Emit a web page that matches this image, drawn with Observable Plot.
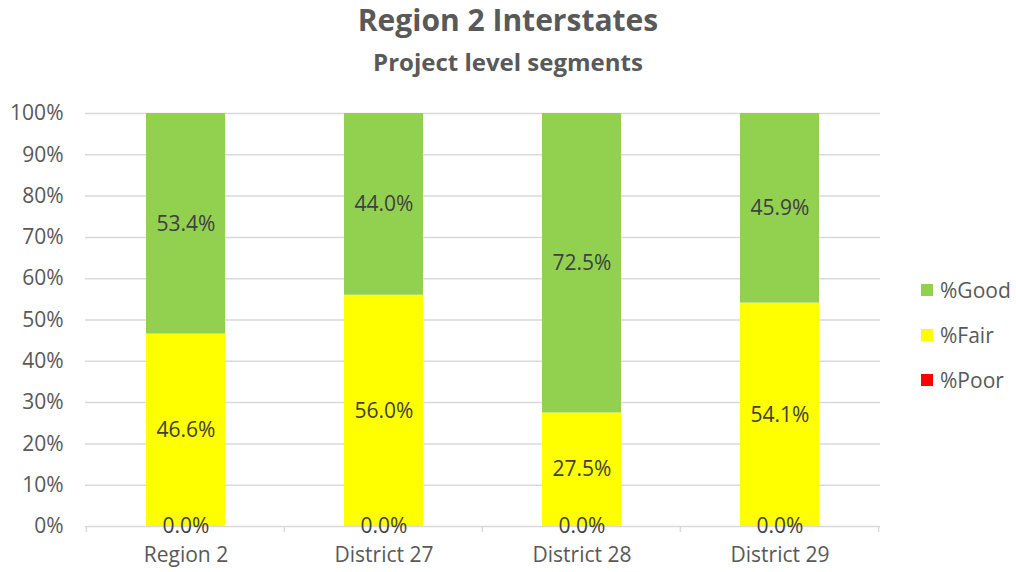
<!DOCTYPE html>
<html>
<head>
<meta charset="utf-8">
<script src="https://cdn.jsdelivr.net/npm/d3@7"></script>
<script src="https://cdn.jsdelivr.net/npm/@observablehq/plot@0.6"></script>
<style>
  html, body { margin: 0; padding: 0; background: #fff; }
  #wrap { position: relative; width: 1016px; height: 572px; font-family: "Open Sans", sans-serif; }
  #title { position: absolute; left: 0; width: 1016px; top: 0px; text-align: center; font-weight: bold; font-size: 30px; line-height: 40px; color: #595959; }
  #subtitle { position: absolute; left: 0; width: 1016px; top: 46px; text-align: center; font-weight: bold; font-size: 24px; line-height: 32px; color: #595959; }
  #chart { position: absolute; left: 0; top: 90px; }
  #legend { position: absolute; left: 921px; top: 267px; font-size: 21px; color: #595959; }
  .li { display: flex; align-items: center; height: 45px; }
  .sw { width: 12px; height: 12px; margin-right: 7px; }
</style>
</head>
<body>
<div id="wrap">
  <div id="title">Region 2 Interstates</div>
  <div id="subtitle">Project level segments</div>
  <div id="chart"></div>
  <div id="legend"></div>
</div>
<script>
const categories = ["Region 2", "District 27", "District 28", "District 29"];
const series = ["%Poor", "%Fair", "%Good"];
const poor = [0.0, 0.0, 0.0, 0.0];
const fair = [46.6, 56.0, 27.5, 54.1];
const good = [53.4, 44.0, 72.5, 45.9];
const colors = ["#FF0000", "#FFFF00", "#92D050"];
const yTicks = [0, 10, 20, 30, 40, 50, 60, 70, 80, 90, 100];

const seriesValues = [poor, fair, good];
const rows = [];
categories.forEach((c, i) => {
  let base = 0;
  series.forEach((s, j) => {
    const v = seriesValues[j][i];
    rows.push({category: c, series: s, value: v, y1: base, y2: base + v, mid: base + v / 2});
    base += v;
  });
});

const W = 1016, H = 482, ML = 85, MR = 136, MT = 23, MB = 46;
const step = (W - ML - MR) / categories.length;

const boundaryTicks = (index, scales, values, dims) => {
  const g = d3.create("svg:g");
  const y0 = scales.y(0);
  const xs = categories.map(c => scales.x(c) - step * 0.3);
  xs.push(scales.x(categories[categories.length - 1]) + scales.x.bandwidth() + step * 0.3);
  xs.forEach(x => {
    g.append("line").attr("x1", x).attr("x2", x).attr("y1", y0).attr("y2", y0 + 6)
      .attr("stroke", "#d9d9d9").attr("stroke-width", 1.5);
  });
  return g.node();
};

const chart = Plot.plot({
  width: W,
  height: H,
  marginLeft: ML,
  marginRight: MR,
  marginTop: MT,
  marginBottom: MB,
  style: {fontFamily: "Open Sans, sans-serif", fontSize: "21px", color: "#595959", background: "#fff", overflow: "visible"},
  x: {domain: categories, paddingInner: 0.6, paddingOuter: 0.3, label: null, tickSize: 0, tickPadding: 21},
  y: {domain: [0, 100], ticks: yTicks, tickFormat: d => d + "%", label: null, tickSize: 0, tickPadding: 22},
  color: {domain: series, range: colors},
  marks: [
    Plot.ruleY(yTicks.filter(t => t > 0), {stroke: "#d9d9d9", strokeWidth: 1.5}),
    Plot.barY(rows, {x: "category", y1: "y1", y2: "y2", fill: "series"}),
    Plot.ruleY([0], {stroke: "#d9d9d9", strokeWidth: 1.5}),
    boundaryTicks,
    Plot.text(rows, {x: "category", y: "mid", text: d => d.value.toFixed(1) + "%", fill: "#404040", fontSize: 21})
  ]
});
document.getElementById("chart").appendChild(chart);

const legend = document.getElementById("legend");
[...series].reverse().forEach(s => {
  const i = series.indexOf(s);
  const el = document.createElement("div");
  el.className = "li";
  el.innerHTML = `<span class="sw" style="background:${colors[i]}"></span><span>${s}</span>`;
  legend.appendChild(el);
});
</script>
</body>
</html>
